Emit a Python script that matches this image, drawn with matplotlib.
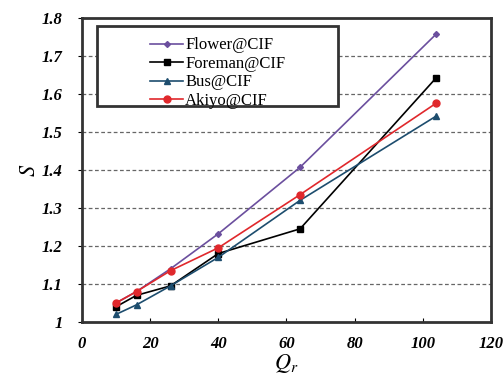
import matplotlib.pyplot as plt
from matplotlib.patches import Rectangle

qr = [10, 16, 26, 40, 64, 104]
flower = [1.050, 1.080, 1.140, 1.232, 1.407, 1.758]
foreman = [1.040, 1.070, 1.095, 1.180, 1.245, 1.643]
bus = [1.020, 1.045, 1.095, 1.170, 1.320, 1.542]
akiyo = [1.050, 1.080, 1.135, 1.195, 1.335, 1.576]

labels = ["Flower@CIF", "Foreman@CIF", "Bus@CIF", "Akiyo@CIF"]
xticks = [0, 20, 40, 60, 80, 100, 120]
yticks = [1, 1.1, 1.2, 1.3, 1.4, 1.5, 1.6, 1.7, 1.8]
ytick_labels = ['1', '1.1', '1.2', '1.3', '1.4', '1.5', '1.6', '1.7', '1.8']

plt.rcParams['font.family'] = ['Liberation Serif', 'DejaVu Serif']
plt.rcParams['mathtext.fontset'] = 'stix'

fig = plt.figure(figsize=(5.03, 3.81), dpi=100)
ax = fig.add_axes([0.163, 0.155, 0.813, 0.798])

ax.plot(qr, flower, color='#6b4f9e', marker='D', markersize=3, lw=1.2, label=labels[0])
ax.plot(qr, foreman, color='black', marker='s', markersize=4, lw=1.2, label=labels[1])
ax.plot(qr, bus, color='#1d4d6e', marker='^', markersize=4, lw=1.2, label=labels[2])
ax.plot(qr, akiyo, color='#e0282c', marker='o', markersize=5, lw=1.2, label=labels[3])

ax.set_xlim(0, 120)
ax.set_ylim(1, 1.8)
ax.set_xticks(xticks)
ax.set_yticks(yticks)
ax.set_xticklabels([str(t) for t in xticks], fontsize=12, fontstyle='italic', fontweight='bold')
ax.set_yticklabels(ytick_labels, fontsize=12, fontstyle='italic', fontweight='bold')
ax.tick_params(axis='x', direction='in', length=3, pad=10)
ax.tick_params(axis='y', direction='out', length=3, pad=11)

for y in yticks[1:-1]:
    ax.axhline(y, color='0.4', lw=0.9, ls=(0, (3, 2)), zorder=0)

for sp in ax.spines.values():
    sp.set_linewidth(2)
    sp.set_color('#333333')

ax.set_xlabel('$Q_r$', fontsize=16, labelpad=0)
ax.set_ylabel('$S$', fontsize=16, rotation=90, labelpad=1)

ax.add_patch(Rectangle((0.037, 0.71), 0.589, 0.264, transform=ax.transAxes,
                       fill=True, facecolor='white', edgecolor='#333333', lw=2, zorder=3))
leg = ax.legend(loc='upper left', bbox_to_anchor=(0.13, 0.985), frameon=False,
                fontsize=12, handlelength=2.0, handletextpad=0.1, labelspacing=0.15)
leg.set_zorder(4)

fig.savefig('out.png', dpi=100)
